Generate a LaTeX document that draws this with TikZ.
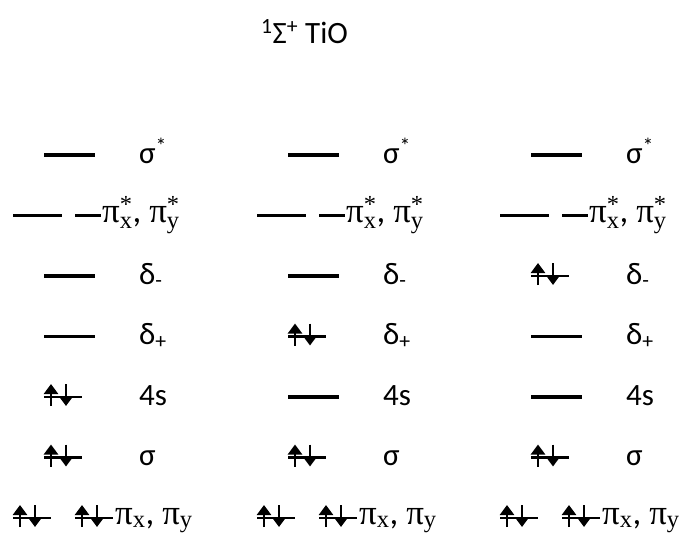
\documentclass[tikz,border=0pt]{standalone}
\usepackage{fontspec}
\usepackage{amsmath}
\setmainfont{Carlito}
\newfontfamily\pf{Liberation Serif}
\usetikzlibrary{arrows.meta}
\tikzset{
  level/.style={line width=3.6pt},
  pairline/.style={line width=2.8pt},
  spin/.style={line width=2.8pt,-{Triangle[width=14pt,length=10pt]}},
  lab/.style={anchor=base west,inner sep=0pt,font=\fontsize{31}{36}\selectfont},
  plab/.style={anchor=base west,inner sep=0pt,font=\fontsize{35}{40}\selectfont},
}
\newcommand\emptylvl[3]{\draw[level] (#1,#2) -- ++(#3,0);}
\newcommand\pairlvl[2]{%
  \draw[pairline] (#1,#2) -- ++(38,0);
  \draw[spin] (#1+7,#2+9) -- (#1+7,#2-13);
  \draw[spin] (#1+22,#2-13) -- (#1+22,#2+9);}
\newcommand\pist[1]{$\text{\pf π}^{\text{\pf *}}_{\text{\pf #1}}$}
\newcommand\pisb[1]{$\text{\pf π}_{\text{\pf #1}}$}
\begin{document}
\begin{tikzpicture}[x=1pt,y=-1pt]
\useasboundingbox (0,0) rectangle (682,533);
\node[lab] (title) at (261,43) {\textsuperscript{1}Σ\textsuperscript{+} TiO};
\foreach \c/\dx in {1/0,2/244,3/487}{
  % sigma*
  \emptylvl{44+\dx}{155}{51}
  \node[lab] (ss\c) at (139+\dx,163) {σ$^{\text{*}}$};
  % pi*
  \emptylvl{13+\dx}{215.5}{49}
  \emptylvl{75+\dx}{215.5}{26}
  \node[plab] (ps\c) at (102+\dx,222) {\pist{x}, \pist{y}};
  % sigma
  \pairlvl{44+\dx}{457.5}
  \node[lab] (sg\c) at (139+\dx,465.5) {σ};
  % pi
  \pairlvl{13+\dx}{518}
  \pairlvl{75+\dx}{518}
  \node[plab] (pp\c) at (115+\dx,524) {\pisb{x}, \pisb{y}};
  % labels
  \node[lab] (dm\c) at (139+\dx,284) {δ$_{\text{-}}$};
  \node[lab] (dp\c) at (139+\dx,344.5) {δ$_{\text{+}}$};
  \node[lab] (fs\c) at (139+\dx,405) {4s};
}
% column 1
\emptylvl{44}{276}{51}
\emptylvl{44}{336.5}{51}
\pairlvl{44}{397}
% column 2
\emptylvl{288}{276}{51}
\pairlvl{288}{336.5}
\emptylvl{288}{397}{51}
% column 3
\pairlvl{531}{276}
\emptylvl{531}{336.5}{51}
\emptylvl{531}{397}{51}
\end{tikzpicture}
\end{document}
